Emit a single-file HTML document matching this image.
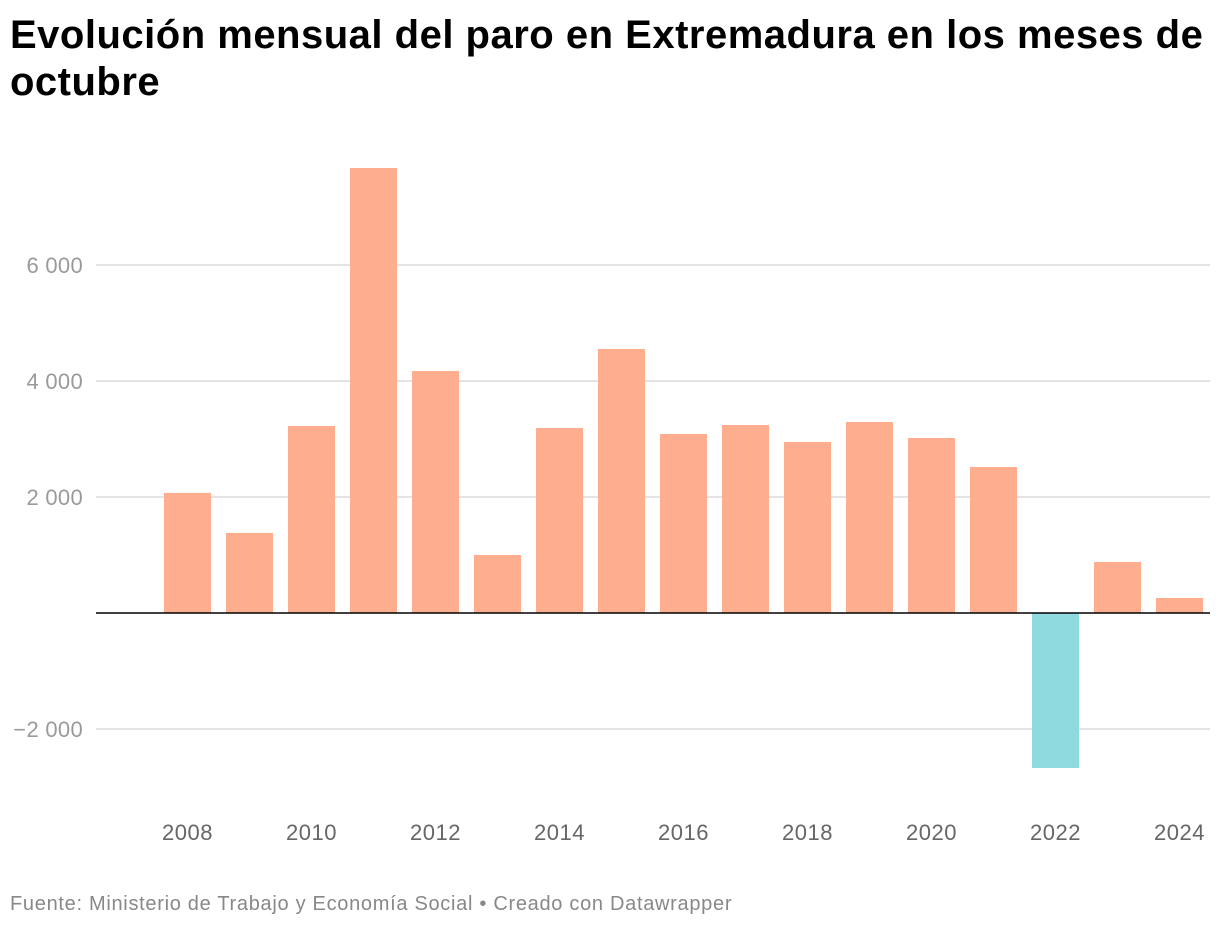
<!DOCTYPE html>
<html><head><meta charset="utf-8"><style>
body{margin:0;background:#fff;width:1220px;height:928px;overflow:hidden;font-family:"Liberation Sans",sans-serif}
h1{position:absolute;left:10px;top:12px;margin:0;font-size:40px;line-height:47px;font-weight:bold;color:#000;width:1215px;letter-spacing:0.5px;white-space:nowrap}
#foot{position:absolute;left:10px;top:893px;font-size:20px;color:#888;letter-spacing:0.7px;white-space:nowrap}
svg{position:absolute;left:0;top:0}
</style></head><body>
<h1>Evolución mensual del paro en Extremadura en los meses de<br>octubre</h1>
<svg id="chart" width="1220" height="928"></svg>
<div id="foot">Fuente: Ministerio de Trabajo y Economía Social • Creado con Datawrapper</div>
<script>
const years=[2008,2009,2010,2011,2012,2013,2014,2015,2016,2017,2018,2019,2020,2021,2022,2023,2024];
const values=[2070,1380,3224,7672,4172,1000,3190,4552,3086,3241,2948,3293,3017,2517,-2672,879,259];
const yTicks=[-2000,2000,4000,6000];
const yTickLabels=["\u22122 000","2 000","4 000","6 000"];
const xTickYears=[2008,2010,2012,2014,2016,2018,2020,2022,2024];
const NS="http://www.w3.org/2000/svg";
const svg=document.getElementById('chart');
const y=v=>613-v*0.058;
const x=yr=>187.5+(yr-2008)*62;
function mk(t,a){const e=document.createElementNS(NS,t);for(const k in a)e.setAttribute(k,a[k]);svg.appendChild(e);return e;}
yTicks.forEach((v,i)=>{
 const l=mk('line',{x1:96,x2:1210,y1:y(v),y2:y(v),stroke:'#e3e3e3','stroke-width':2});
 
 
 const t=mk('text',{x:83,y:y(v)+8,'text-anchor':'end','font-size':22,fill:'#9a9a9a','font-family':'Liberation Sans, sans-serif','letter-spacing':0.3});
 t.textContent=yTickLabels[i];
 
 
});
years.forEach((yr,i)=>{
 const v=values[i];
 const r=mk('rect',{x:x(yr)-23.5,width:47,y:Math.min(y(v),y(0)),height:Math.abs(y(v)-y(0)),fill:v<0?'#8fdadf':'#ffad8f'});
 
 
});
const z=mk('line',{x1:96,x2:1210,y1:y(0),y2:y(0),stroke:'#000','stroke-width':1.5});


xTickYears.forEach(yr=>{
 const t=mk('text',{x:x(yr),y:840,'text-anchor':'middle','font-size':22,fill:'#666','font-family':'Liberation Sans, sans-serif','letter-spacing':0.5});
 t.textContent=yr;
 
 
});
</script>
</body></html>
